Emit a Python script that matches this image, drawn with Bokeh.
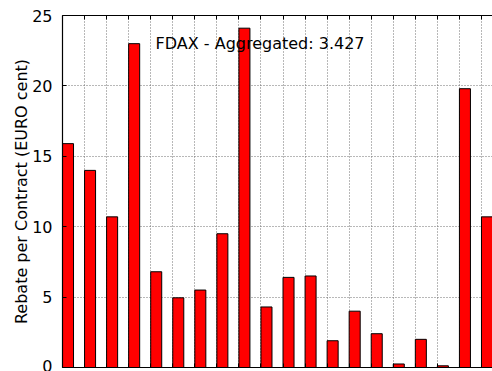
from bokeh.plotting import figure
from bokeh.models import (ColumnDataSource, Range1d, LinearAxis, Label,
                          SingleIntervalTicker, CustomJSTickFormatter)
from bokeh.embed import file_html
from bokeh.resources import INLINE

# Rebate per contract, one bar per slot
slots = list(range(20))
rebates = [15.9, 14.0, 10.7, 23.0, 6.8, 4.95, 5.5, 9.5, 24.1, 4.3,
           6.4, 6.5, 1.9, 4.0, 2.4, 0.25, 2.0, 0.12, 19.8, 10.7]
y_ticks_step = 5
title_text = "FDAX - Aggregated: 3.427"
y_label = "Rebate per Contract (EURO cent)"

FONT = "DejaVu Sans"

src = ColumnDataSource(dict(
    left=slots,
    right=[s + 0.5 for s in slots],
    top=rebates,
))

p = figure(width=492, height=371, output_backend="svg", toolbar_location=None,
           x_range=Range1d(0, 19.5), y_range=Range1d(0, 25),
           x_axis_location=None, y_axis_location=None,
           min_border_left=62, min_border_right=0,
           min_border_top=15, min_border_bottom=4)
p.outline_line_color = None
p.background_fill_color = "white"
p.border_fill_color = "white"

p.quad(left="left", right="right", bottom=0, top="top", source=src,
       fill_color="#ff0000", line_color="black", line_width=1)

xt = SingleIntervalTicker(interval=1)
yt = SingleIntervalTicker(interval=y_ticks_step)

# left axis with labels
ya = LinearAxis(ticker=yt, axis_label=y_label)
ya.axis_line_color = "black"
ya.axis_line_width = 1.2
ya.major_tick_in = 4
ya.major_tick_out = 0
ya.minor_tick_line_color = None
ya.major_label_standoff = 6
ya.major_label_text_font = FONT
ya.major_label_text_font_size = "16px"
ya.major_label_text_color = "black"
ya.axis_label_text_font = FONT
ya.axis_label_text_font_size = "16px"
ya.axis_label_text_font_style = "normal"
ya.axis_label_text_color = "black"
ya.axis_label_standoff = -2
p.add_layout(ya, "left")

# top and bottom frame lines with inward ticks, no labels
blank = CustomJSTickFormatter(code="return '';")
for loc in ("above", "below"):
    ax = LinearAxis(ticker=xt, formatter=blank)
    ax.axis_line_color = "black"
    ax.axis_line_width = 1.2
    ax.major_tick_in = 4
    ax.major_tick_out = 0
    ax.minor_tick_line_color = None
    ax.major_label_text_font_size = "1px"
    ax.major_label_standoff = 0
    p.add_layout(ax, loc)

# dotted grid
p.xgrid.ticker = xt
p.ygrid.ticker = yt
for g in (p.xgrid, p.ygrid):
    g.grid_line_color = "#707070"
    g.grid_line_dash = "1 2"
    g.grid_line_width = 1

p.add_layout(Label(x=8.96, y=23.0, text=title_text, text_align="center",
                   text_baseline="alphabetic", text_font=FONT,
                   text_font_size="16px", text_color="black"))

open("out.html", "w").write(file_html(p, INLINE))
